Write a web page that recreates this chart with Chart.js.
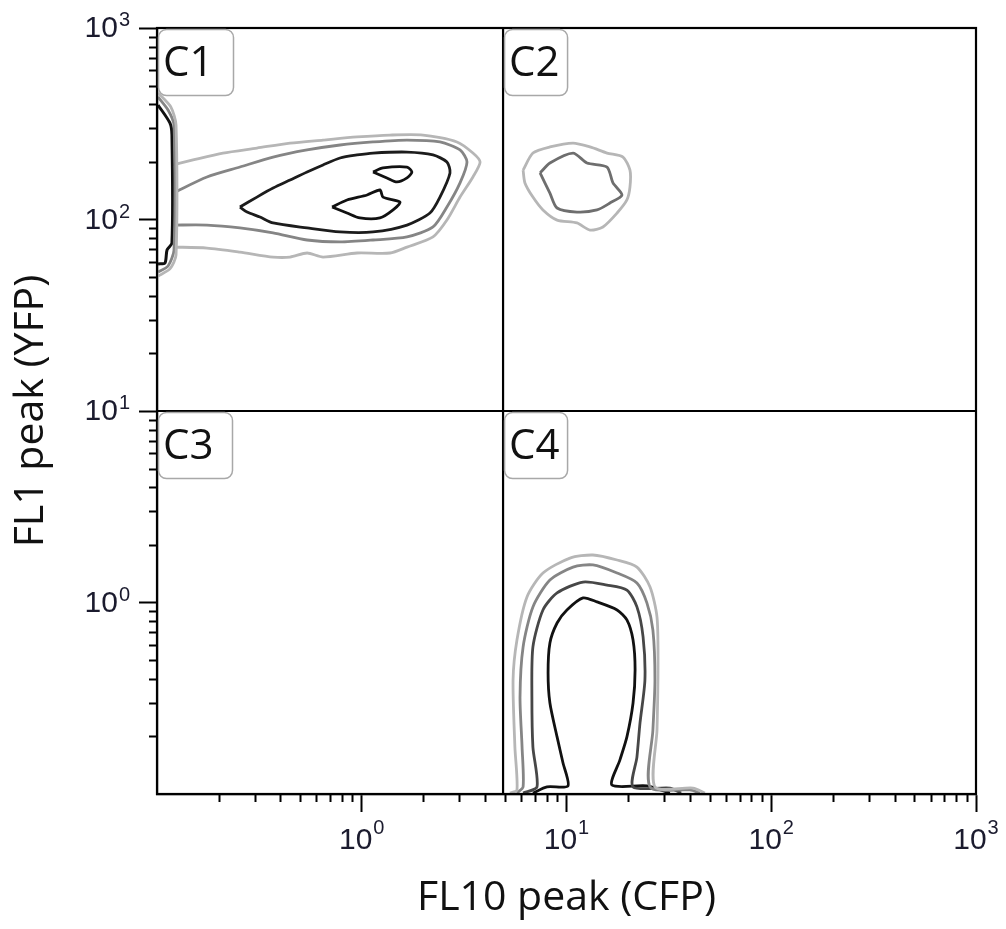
<!DOCTYPE html>
<html lang="en">
<head>
  <meta charset="UTF-8">
  <title>FL10 vs FL1 contour plot</title>
  <script src="https://cdn.jsdelivr.net/npm/chart.js"></script>
  <style>
    body { margin: 0; background: #fff; }
    #wrap { width: 1006px; height: 929px; }
  </style>
</head>
<body>
  <div id="wrap"><canvas id="grafica"></canvas></div>

  <script>
    // axis ranges and ticks
    const xRange = [0.1, 1000];
    const yRange = [0.1, 1000];
    const decadeTicks = [1, 10, 100, 1000];
    const minorSteps = [2, 3, 4, 5, 6, 7, 8, 9];
    const decadeStarts = [0.1, 1, 10, 100];

    // quadrant gates
    const gateX = 4.9;
    const gateY = 10;
    const quadrantNames = ['C1', 'C2', 'C3', 'C4'];

    // contour lines as [log10 FL10, log10 FL1]
    const c1EdgeBlack = [[-0.995, 2.598], [-0.937, 2.504], [-0.927, 2.441], [-0.927, 1.877], [-0.951, 1.841], [-0.961, 1.773], [-0.995, 1.768]];
    const c1EdgeMid = [[-0.995, 2.640], [-0.946, 2.572], [-0.917, 2.493], [-0.917, 1.841], [-0.946, 1.757], [-0.995, 1.726]];
    const c1EdgeLight = [[-0.995, 2.661], [-0.932, 2.587], [-0.907, 2.493], [-0.907, 1.815], [-0.937, 1.742], [-0.995, 1.705]];

    const c1Light = [[-0.922, 2.285], [-0.824, 2.311], [-0.678, 2.347], [-0.512, 2.373], [-0.350, 2.399], [-0.189, 2.415],
      [-0.023, 2.431], [0.138, 2.441], [0.299, 2.441], [0.465, 2.405], [0.543, 2.347], [0.578, 2.300], [0.543, 2.222],
      [0.480, 2.117], [0.416, 1.997], [0.348, 1.909], [0.221, 1.856], [0.138, 1.825], [-0.023, 1.825], [-0.189, 1.804],
      [-0.267, 1.825], [-0.350, 1.804], [-0.433, 1.804], [-0.595, 1.830], [-0.756, 1.851], [-0.922, 1.856]];
    const c1Mid = [[-0.922, 2.138], [-0.756, 2.222], [-0.595, 2.274], [-0.433, 2.326], [-0.267, 2.363], [-0.106, 2.389],
      [0.055, 2.405], [0.221, 2.415], [0.382, 2.405], [0.480, 2.363], [0.514, 2.300], [0.480, 2.191], [0.416, 2.065],
      [0.348, 1.961], [0.221, 1.909], [0.055, 1.893], [-0.106, 1.883], [-0.267, 1.893], [-0.433, 1.930], [-0.595, 1.956],
      [-0.756, 1.971], [-0.922, 1.971]];
    const c1Dark = [[-0.595, 2.065], [-0.512, 2.117], [-0.433, 2.164], [-0.350, 2.206], [-0.267, 2.248], [-0.189, 2.285],
      [-0.106, 2.321], [-0.023, 2.337], [0.055, 2.347], [0.221, 2.352], [0.348, 2.337], [0.416, 2.300], [0.431, 2.243],
      [0.382, 2.117], [0.333, 2.034], [0.221, 1.971], [0.055, 1.935], [-0.106, 1.935], [-0.267, 1.956], [-0.433, 1.982],
      [-0.497, 2.013], [-0.560, 2.039], [-0.595, 2.065]];
    const c1PeakA = [[0.055, 2.248], [0.104, 2.269], [0.221, 2.274], [0.245, 2.248], [0.221, 2.217], [0.172, 2.196], [0.123, 2.217], [0.055, 2.248]];
    const c1PeakB = [[-0.145, 2.065], [-0.072, 2.102], [0.026, 2.128], [0.089, 2.154], [0.104, 2.117], [0.187, 2.091],
      [0.153, 2.050], [0.089, 2.008], [-0.009, 2.008], [-0.072, 2.034], [-0.145, 2.065]];

    const c2Light = [[0.788, 2.258], [0.836, 2.347], [0.919, 2.379], [1.032, 2.399], [1.115, 2.379], [1.198, 2.347],
      [1.276, 2.326], [1.310, 2.258], [1.310, 2.170], [1.295, 2.102], [1.247, 2.034], [1.178, 1.961], [1.115, 1.945],
      [1.051, 1.982], [0.954, 1.997], [0.885, 2.050], [0.836, 2.117], [0.797, 2.191], [0.788, 2.258]];
    const c2Mid = [[0.871, 2.243], [0.919, 2.295], [1.032, 2.347], [1.100, 2.295], [1.198, 2.274], [1.227, 2.191],
      [1.271, 2.128], [1.212, 2.086], [1.149, 2.050], [1.051, 2.039], [0.954, 2.060], [0.919, 2.138], [0.871, 2.243]];

    const c4Black = [[0.836, -0.995], [0.905, -0.963], [1.007, -0.958], [0.983, -0.838], [0.954, -0.702], [0.919, -0.525],
      [0.910, -0.368], [0.919, -0.211], [0.954, -0.107], [1.002, -0.039], [1.081, 0.024], [1.149, 0.003], [1.247, -0.039],
      [1.295, -0.091], [1.325, -0.196], [1.335, -0.352], [1.325, -0.525], [1.295, -0.702], [1.261, -0.822], [1.222, -0.953],
      [1.393, -0.958], [1.505, -0.995]];
    const c4Dark = [[0.788, -0.995], [0.856, -0.963], [0.836, -0.755], [0.831, -0.493], [0.836, -0.232], [0.885, -0.039],
      [0.954, 0.050], [1.081, 0.107], [1.198, 0.091], [1.295, 0.065], [1.344, -0.023], [1.374, -0.180], [1.383, -0.405],
      [1.359, -0.629], [1.344, -0.807], [1.325, -0.963], [1.505, -0.969], [1.560, -0.995]];
    const c4Mid = [[0.758, -0.995], [0.788, -0.963], [0.783, -0.755], [0.773, -0.493], [0.788, -0.232], [0.836, -0.023],
      [0.919, 0.117], [1.032, 0.185], [1.129, 0.196], [1.247, 0.154], [1.344, 0.102], [1.393, -0.003], [1.422, -0.144],
      [1.432, -0.405], [1.422, -0.666], [1.408, -0.963], [1.603, -0.979], [1.652, -0.995]];
    const c4Light = [[0.724, -0.995], [0.758, -0.979], [0.748, -0.755], [0.739, -0.405], [0.758, -0.196], [0.807, 0.029],
      [0.885, 0.154], [1.017, 0.232], [1.129, 0.248], [1.247, 0.222], [1.344, 0.185], [1.408, 0.081], [1.442, -0.076],
      [1.447, -0.316], [1.442, -0.666], [1.432, -0.963], [1.618, -0.969], [1.676, -0.995]];

    const LIGHT = '#b6b6b6', MID = '#858585', DARK = '#474747', BLACK = '#111';

    const toPts = arr => arr.map(([a, b]) => ({ x: Math.pow(10, a), y: Math.pow(10, b) }));
    const contour = (arr, color, w) => ({
      data: toPts(arr), borderColor: color, borderWidth: w || 2.8,
      showLine: true, pointRadius: 0, tension: 0.25, fill: false
    });

    const datasets = [
      { data: [{ x: gateX, y: yRange[0] }, { x: gateX, y: yRange[1] }], borderColor: '#000', borderWidth: 2.2, showLine: true, pointRadius: 0 },
      { data: [{ x: xRange[0], y: gateY }, { x: xRange[1], y: gateY }], borderColor: '#000', borderWidth: 2.2, showLine: true, pointRadius: 0 },
      contour(c1EdgeLight, LIGHT), contour(c1EdgeMid, MID), contour(c1EdgeBlack, BLACK, 3),
      contour(c1Light, LIGHT), contour(c1Mid, MID), contour(c1Dark, '#1c1c1c', 2.8),
      contour(c1PeakA, BLACK, 2.8), contour(c1PeakB, BLACK, 2.8),
      contour(c2Light, LIGHT), contour(c2Mid, '#6e6e6e', 2.8),
      contour(c4Light, LIGHT), contour(c4Mid, MID), contour(c4Dark, DARK), contour(c4Black, BLACK, 2.8)
    ];

    const exponentOf = v => String(Math.round(Math.log10(v)));

    // frame, minor ticks, decade labels and quadrant tags
    const extras = {
      id: 'extras',
      afterDatasetsDraw(chart) {
        const { ctx, chartArea: a, scales: { x, y } } = chart;
        ctx.save();
        ctx.strokeStyle = '#000';
        ctx.lineWidth = 2.2;
        ctx.strokeRect(a.left, a.top, a.right - a.left, a.bottom - a.top);

        ctx.lineWidth = 2;
        ctx.beginPath();
        decadeStarts.forEach(d => minorSteps.forEach(k => {
          const px = Math.round(x.getPixelForValue(d * k)) + 0.5;
          ctx.moveTo(px, a.bottom); ctx.lineTo(px, a.bottom + 8);
          const py = Math.round(y.getPixelForValue(d * k)) + 0.5;
          ctx.moveTo(a.left, py); ctx.lineTo(a.left - 8, py);
        }));
        ctx.stroke();

        // decade labels 10^n with a raised exponent
        const baseFont = '30px "Liberation Sans", Arial';
        const supFont = '20px "Liberation Sans", Arial';
        ctx.fillStyle = '#1b1b2e';
        ctx.textBaseline = 'alphabetic';
        decadeTicks.forEach(v => {
          const e = exponentOf(v);
          ctx.font = baseFont;
          const wb = ctx.measureText('10').width;
          ctx.font = supFont;
          const we = ctx.measureText(e).width;
          // x axis
          const px = x.getPixelForValue(v);
          const sx = px - (wb + we + 1) / 2;
          ctx.font = baseFont; ctx.textAlign = 'left';
          ctx.fillText('10', sx, a.bottom + 55);
          ctx.font = supFont;
          ctx.fillText(e, sx + wb + 1, a.bottom + 40);
          // y axis
          const py = y.getPixelForValue(v);
          const rx = a.left - 27;
          ctx.font = supFont;
          ctx.fillText(e, rx - we, py - 2);
          ctx.font = baseFont;
          ctx.fillText('10', rx - we - 1 - wb, py + 9);
        });

        const gx = x.getPixelForValue(gateX), gy = y.getPixelForValue(gateY);
        const corners = [[a.left, a.top, 75], [gx, a.top, 63], [a.left, gy, 74], [gx, gy, 63]];
        quadrantNames.forEach((name, i) => {
          const [bx, by, bw] = corners[i];
          ctx.beginPath();
          ctx.roundRect(bx + 1.5, by + 1.5, bw, 66, 8);
          ctx.fillStyle = '#fff';
          ctx.fill();
          ctx.strokeStyle = '#a8a8a8';
          ctx.lineWidth = 1.5;
          ctx.stroke();
          ctx.fillStyle = '#111';
          ctx.font = '42px "Open Sans"';
          ctx.textAlign = 'left';
          ctx.textBaseline = 'alphabetic';
          ctx.fillText(name, bx + 6, by + 48);
        });
        ctx.restore();
      }
    };

    const axis = (pos, title, fit, titlePad) => ({
      type: 'logarithmic',
      position: pos,
      min: pos === 'bottom' ? xRange[0] : yRange[0],
      max: pos === 'bottom' ? xRange[1] : yRange[1],
      afterBuildTicks: s => { s.ticks = decadeTicks.map(v => ({ value: v })); },
      afterFit: fit,
      border: { display: true, color: '#000', width: 2.2 },
      grid: { drawOnChartArea: false, tickLength: 18, tickWidth: 2, tickColor: '#000' },
      ticks: { display: false, autoSkip: false },
      title: {
        display: true, text: title, color: '#111',
        font: { family: '"Open Sans"', size: 41 },
        padding: titlePad
      }
    });

    new Chart(document.getElementById('grafica'), {
      type: 'scatter',
      data: { datasets },
      options: {
        responsive: true,
        maintainAspectRatio: false,
        animation: false,
        layout: { padding: { top: 28, right: 30, left: 0, bottom: 0 } },
        plugins: { legend: { display: false }, tooltip: { enabled: false } },
        scales: {
          x: axis('bottom', 'FL10 peak (CFP)', s => { s.height = 135; }, { top: 0, bottom: 6 }),
          y: axis('left', 'FL1 peak (YFP)', s => { s.width = 157; }, { top: 7, bottom: 0 })
        }
      },
      plugins: [extras]
    });
  </script>
</body>
</html>
